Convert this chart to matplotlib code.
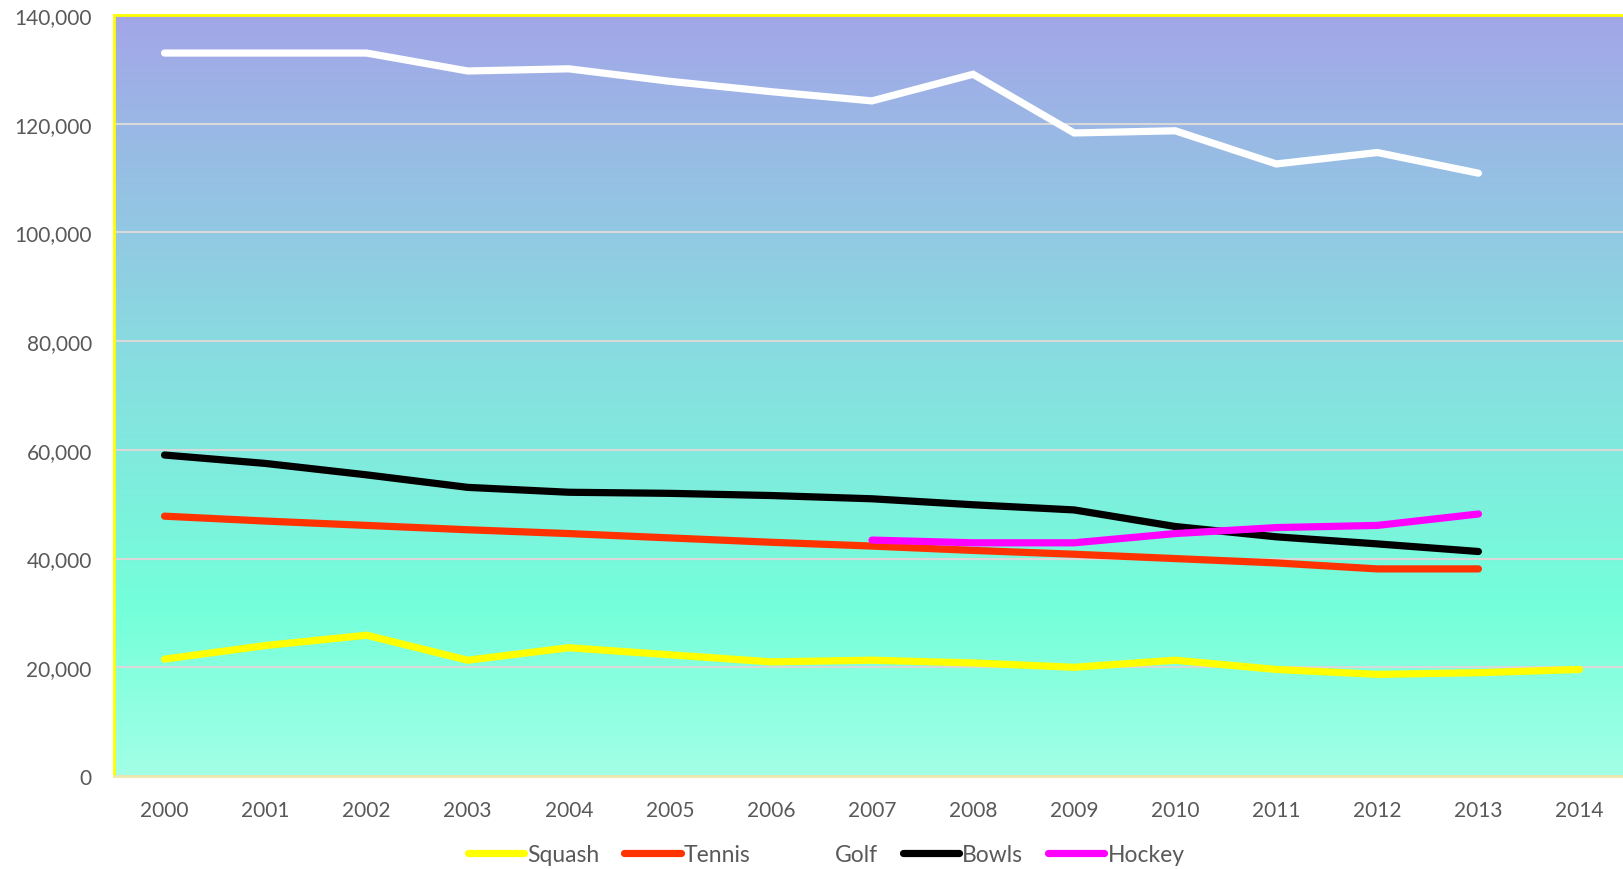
import numpy as np
import matplotlib
matplotlib.use("Agg")
import matplotlib.pyplot as plt
from matplotlib.colors import LinearSegmentedColormap

plt.rcParams['font.family'] = ['Lato', 'DejaVu Sans']

years = [str(y) for y in range(2000, 2015)]

squash = [21500, 24000, 25900, 21300, 23600, 22300, 21000, 21300, 20800, 20000, 21300, 19600, 18700, 19000, 19600]
tennis = [47800, 46900, 46100, 45300, 44600, 43800, 43000, 42300, 41500, 40800, 40000, 39200, 38100, 38100, None]
golf = [133000, 133000, 133000, 129700, 130100, 127800, 125900, 124200, 129100, 118300, 118700, 112600, 114700, 110900, None]
bowls = [59050, 57500, 55400, 53100, 52200, 52000, 51600, 51000, 49900, 48950, 45900, 44000, 42700, 41300, None]
hockey = [None, None, None, None, None, None, None, 43400, 42900, 42900, 44600, 45700, 46100, 48200, None]

series = [("Squash", squash, "#FFFF00"),
          ("Tennis", tennis, "#FF3300"),
          ("Golf", golf, "#FFFFFF"),
          ("Bowls", bowls, "#000000"),
          ("Hockey", hockey, "#FF00FF")]

fig = plt.figure(figsize=(16.23, 8.70), dpi=100)
ax = fig.add_axes([114 / 1623, 1 - 777 / 870, (1630 - 114) / 1623, (777 - 16) / 870])

# gradient background
cmap = LinearSegmentedColormap.from_list("bg", [(0, "#A3A6E8"), (0.45, "#88DDE0"), (0.78, "#74FFDA"), (1, "#A2FFE6")])
grad = np.linspace(0, 1, 256).reshape(-1, 1)
ax.imshow(grad, cmap=cmap, aspect="auto", extent=[0, 1, 0, 1], transform=ax.transAxes, zorder=0)

x = np.arange(len(years))
for name, vals, col in series:
    y = np.array([np.nan if v is None else v for v in vals], dtype=float)
    ax.plot(x, y, color=col, lw=5.2, solid_capstyle="round", solid_joinstyle="miter", label=name, zorder=3)

ax.set_xlim(-0.5, len(years) - 0.5)
ax.set_ylim(0, 140000)
ax.set_yticks(range(0, 140001, 20000))
ax.set_yticklabels([f"{v:,}" for v in range(0, 140001, 20000)])
ax.set_xticks(x)
ax.set_xticklabels(years)
ax.tick_params(length=0, labelsize=15, labelcolor="#595959")
ax.tick_params(axis="y", pad=16)
ax.tick_params(axis="x", pad=17)
ax.yaxis.grid(True, color="#D9D9D9", lw=1.5)
for gl in ax.get_ygridlines():
    gl.set_zorder(1)

ax.spines["right"].set_visible(False)
ax.spines["top"].set_color("#FFFF00")
ax.spines["top"].set_linewidth(2)
ax.spines["left"].set_color("#FFFF00")
ax.spines["left"].set_linewidth(2)
ax.spines["bottom"].set_color("#EDE8B0")
ax.spines["bottom"].set_linewidth(2)

leg = fig.legend(loc="center", bbox_to_anchor=(0.509, 1 - 856 / 870), ncol=5, frameon=False,
                 fontsize=16.5, handlelength=2.45, handletextpad=0.13, columnspacing=1.1)
for t in leg.get_texts():
    t.set_color("#595959")

plt.savefig("out.png", dpi=100)
